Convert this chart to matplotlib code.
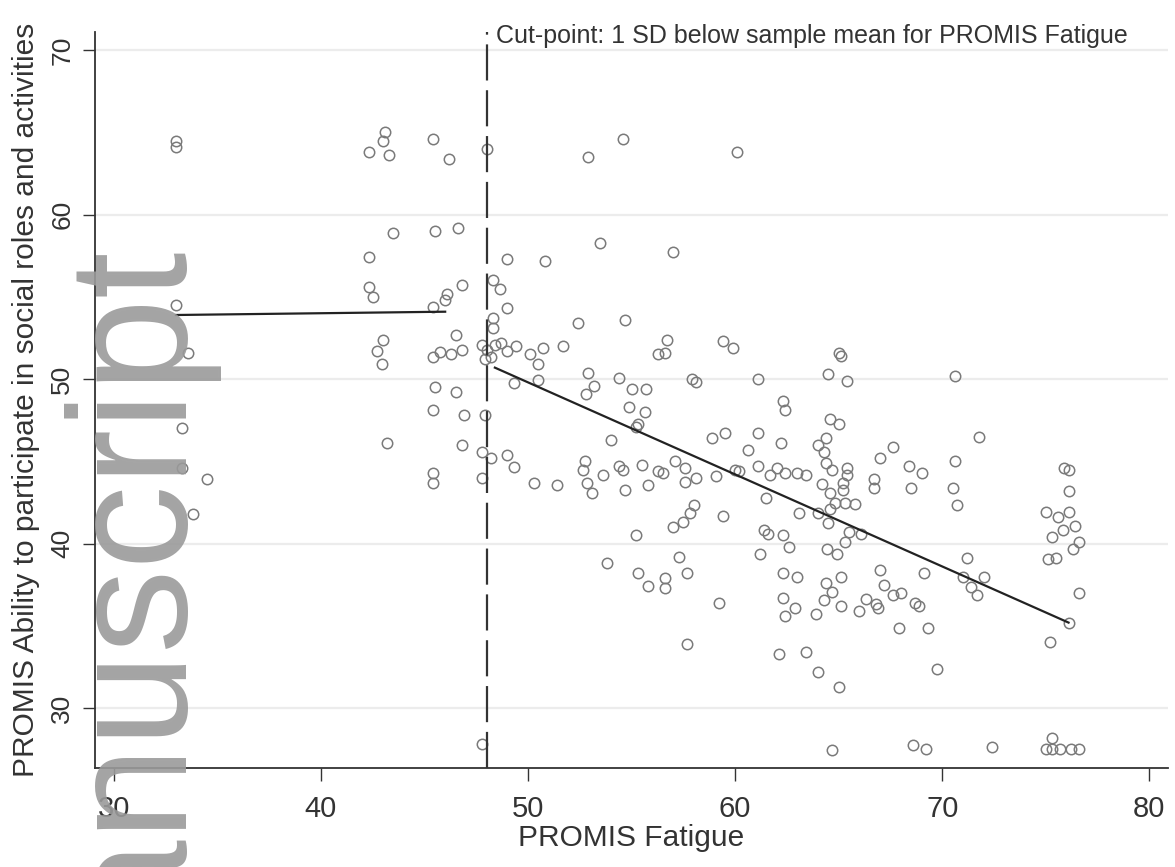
import matplotlib
matplotlib.use("Agg")
import matplotlib.pyplot as plt

plt.rcParams['font.family'] = ['Liberation Sans', 'DejaVu Sans']
plt.rcParams['lines.scale_dashes'] = False

# PROMIS Fatigue (x) vs. PROMIS social roles and activities (y)
fatigue = [
    # below cut-point
    33.0, 33.0, 33.0, 33.6, 33.3, 33.3, 34.5, 33.8,
    42.3, 43.0, 43.1, 43.3, 45.4, 46.2, 43.5, 45.5, 46.6,
    42.3, 42.3, 42.5, 46.8, 46.1, 46.0, 45.4,
    43.0, 42.7, 42.95, 43.2,
    46.5, 45.4, 45.75, 46.3, 46.8, 47.8,
    45.5, 46.5, 45.4, 46.9, 47.9, 46.8, 47.8, 47.8, 45.4, 45.4, 47.8,
    # around cut-point
    48.0, 48.3, 48.65, 49.0, 48.3, 48.3, 48.0, 48.2, 47.9, 48.4, 48.7, 49.0, 49.4, 48.2,
    # 49-58
    49.0, 50.8, 53.5, 57.0, 52.9, 54.6, 60.1,
    50.1, 50.7, 50.5, 51.7, 52.4, 54.7,
    49.3, 50.5, 49.0, 49.3, 50.3, 51.4,
    52.9, 53.2, 52.8, 54.4, 55.0, 55.7, 54.9, 55.65, 55.2, 55.3,
    54.0, 52.75, 52.65, 52.85, 53.1, 53.6, 54.4, 54.6, 55.5, 54.7, 55.8, 56.3, 56.5,
    57.1, 57.6, 57.6, 58.1,
    57.9, 58.1, 56.7, 56.6, 56.3,
    55.2, 57.0, 57.5, 57.8, 58.0,
    53.8, 57.3, 55.3, 57.7, 55.8, 56.6, 56.6, 57.7,
    # 58-63
    59.4, 59.9, 61.1, 58.9, 59.5, 60.6, 61.1, 60.0, 60.2, 61.1, 59.1, 61.5,
    62.2, 61.7, 62.0, 62.4, 63.0, 63.4, 62.3, 62.4,
    59.4, 61.4, 61.6, 61.2, 62.3, 62.6, 63.1,
    62.3, 63.0, 59.2, 62.3, 62.9, 62.4, 63.9, 62.1, 63.4, 64.0, 65.0,
    # 63-67
    65.0, 65.1, 64.5, 65.4, 64.6, 65.0, 64.0, 64.4, 64.3, 64.4, 64.7, 65.4, 65.4,
    65.2, 65.2, 64.2, 64.6, 64.8, 65.3, 65.8, 64.6, 64.5, 65.5, 66.1, 65.3,
    64.45, 64.9, 64.0,
    67.0, 67.6, 66.7, 66.7,
    64.4, 65.1, 64.7, 64.3, 67.0, 67.2, 67.6, 68.0, 66.3, 66.8, 66.9, 66.0, 65.1, 67.9,
    # 68-73
    68.4, 69.0, 68.5, 70.6, 70.5, 70.7, 71.8, 70.6,
    71.2, 72.0, 69.1, 71.0, 71.4, 71.7,
    68.7, 68.9, 69.3, 69.75,
    # 75-77
    75.9, 76.1, 76.1, 75.0, 75.6, 76.1, 75.85, 76.4, 75.3, 76.3, 76.6, 75.1, 75.5,
    76.6, 76.1, 75.2,
    # floor
    64.7, 68.6, 69.2, 72.4, 75.3, 75.0, 75.3, 75.7, 76.2, 76.6,
]
social = [
    64.5, 64.1, 54.5, 51.6, 47.0, 44.6, 43.9, 41.8,
    63.8, 64.5, 65.0, 63.6, 64.6, 63.4, 58.9, 59.0, 59.2,
    57.4, 55.6, 55.0, 55.7, 55.2, 54.8, 54.4,
    52.4, 51.7, 50.9, 46.1,
    52.7, 51.35, 51.65, 51.5, 51.8, 52.1,
    49.5, 49.2, 48.1, 47.8, 47.8, 46.0, 45.55, 44.0, 44.3, 43.7, 27.8,
    64.0, 56.0, 55.5, 54.3, 53.7, 53.1, 51.75, 51.35, 51.2, 52.1, 52.2, 51.7, 52.0, 45.2,
    57.3, 57.2, 58.3, 57.7, 63.5, 64.6, 63.8,
    51.5, 51.9, 50.9, 52.0, 53.4, 53.6,
    49.75, 49.95, 45.4, 44.65, 43.7, 43.55,
    50.4, 49.6, 49.1, 50.1, 49.4, 49.4, 48.3, 48.0, 47.1, 47.3,
    46.3, 45.0, 44.5, 43.7, 43.1, 44.2, 44.7, 44.5, 44.8, 43.25, 43.55, 44.4, 44.3,
    45.0, 44.6, 43.75, 44.0,
    50.0, 49.8, 52.35, 51.6, 51.55,
    40.5, 41.0, 41.3, 41.85, 42.35,
    38.8, 39.2, 38.2, 38.2, 37.45, 37.9, 37.3, 33.9,
    52.3, 51.9, 50.0, 46.4, 46.7, 45.7, 46.7, 44.5, 44.4, 44.75, 44.1, 42.8,
    46.1, 44.2, 44.6, 44.3, 44.3, 44.2, 48.7, 48.1,
    41.7, 40.8, 40.6, 39.35, 40.5, 39.8, 41.85,
    38.2, 37.95, 36.4, 36.7, 36.1, 35.6, 35.75, 33.3, 33.4, 32.2, 31.3,
    51.6, 51.4, 50.3, 49.9, 47.6, 47.25, 46.0, 46.4, 45.55, 44.9, 44.5, 44.6, 44.2,
    43.7, 43.25, 43.6, 43.1, 42.5, 42.45, 42.4, 42.1, 41.25, 40.7, 40.6, 40.1,
    39.7, 39.4, 41.85,
    45.2, 45.9, 43.9, 43.4,
    37.6, 38.0, 37.05, 36.6, 38.4, 37.5, 36.9, 37.0, 36.65, 36.35, 36.1, 35.9, 36.2, 34.9,
    44.7, 44.3, 43.4, 45.0, 43.4, 42.35, 46.5, 50.2,
    39.1, 37.95, 38.2, 37.95, 37.35, 36.9,
    36.4, 36.2, 34.85, 32.4,
    44.6, 44.5, 43.2, 41.9, 41.6, 41.95, 40.8, 41.1, 40.4, 39.7, 40.1, 39.05, 39.1,
    37.0, 35.2, 34.0,
    27.45, 27.75, 27.5, 27.65, 28.2, 27.5, 27.5, 27.5, 27.5, 27.5,
]

cut_point = 48.0
fit_below_x = [33.0, 46.0]
fit_below_y = [53.9, 54.1]
fit_above_x = [48.4, 76.1]
fit_above_y = [50.7, 35.2]

x_ticks = [30, 40, 50, 60, 70, 80]
y_ticks = [30, 40, 50, 60, 70]

fig = plt.figure(figsize=(11.75, 8.67), dpi=100)
ax = fig.add_axes([0.081, 0.114, 0.913, 0.849])

for yt in y_ticks:
    ax.axhline(yt, color='#ececec', lw=1.6, zorder=0)

ax.plot(fatigue, social, 'o', ms=7.5, mfc='none', mec='#7a7a7a', mew=1.1, zorder=2)
ax.plot(fit_below_x, fit_below_y, color='#222222', lw=1.6, zorder=3)
ax.plot(fit_above_x, fit_above_y, color='#222222', lw=1.6, zorder=3)
ax.axvline(cut_point, color='#333333', lw=1.6, dashes=(26, 7), zorder=3)
ax.text(cut_point + 0.45, 70.85, 'Cut-point: 1 SD below sample mean for PROMIS Fatigue',
        fontsize=18, color='#333333', ha='left', va='center')

ax.set_xlim(29.1, 80.9)
ax.set_ylim(26.35, 71.1)
ax.set_xticks(x_ticks)
ax.set_yticks(y_ticks)
for s in ['top', 'right']:
    ax.spines[s].set_visible(False)
for s in ['left', 'bottom']:
    ax.spines[s].set_color('#333333')
    ax.spines[s].set_linewidth(1.3)
ax.tick_params(direction='out', length=9, width=1, color='#333333', labelcolor='#333333')
ax.tick_params(axis='x', labelsize=21, pad=10)
ax.tick_params(axis='y', labelsize=19, pad=6)
for lab in ax.get_yticklabels():
    lab.set_rotation(90)
    lab.set_va('center')
ax.set_xlabel('PROMIS Fatigue', fontsize=21.5, color='#333333')
ax.xaxis.label.set_va('center')
ax.xaxis.set_label_coords(0.5, -(838 - 768) / 736)
ax.set_ylabel('PROMIS Ability to participate in social roles and activities',
              fontsize=21.5, color='#333333')
ax.yaxis.label.set_va('center')
ax.yaxis.set_label_coords(-(95 - 26) / 1073, 0.5)

# watermark
fig.text(176 / 1175, 1 - 239 / 867, 'manuscript', rotation=90, rotation_mode='anchor',
         ha='right', va='baseline', fontsize=121, color='#9a9a9a', alpha=0.9, zorder=10)

fig.savefig('out.png', dpi=100, facecolor='white')
